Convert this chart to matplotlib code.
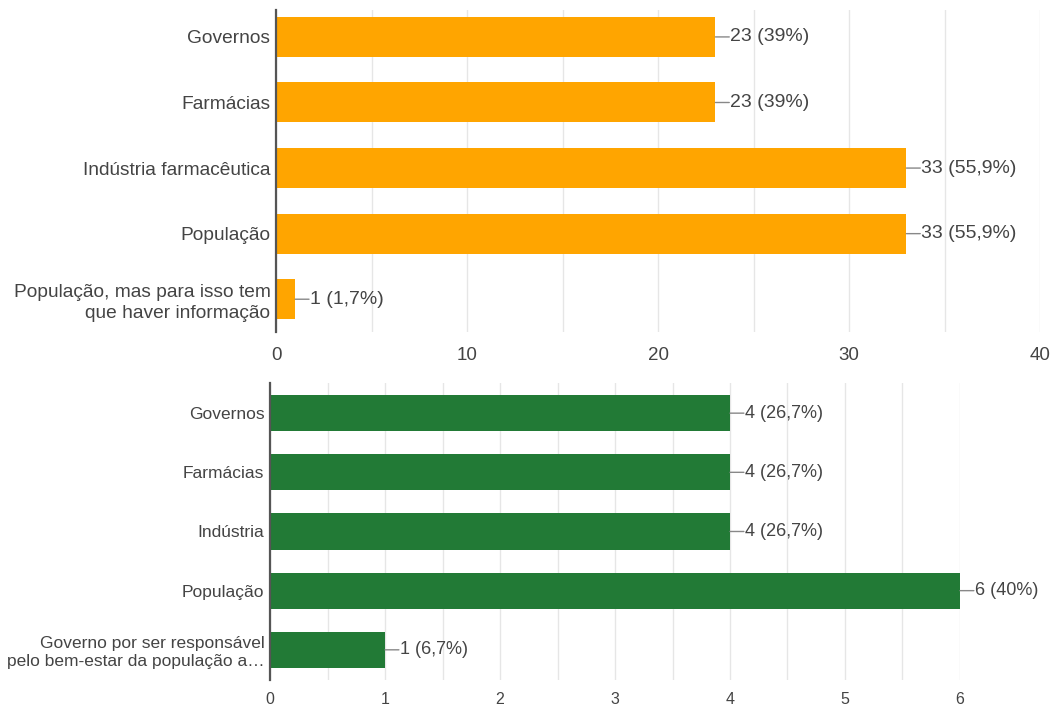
import matplotlib.pyplot as plt
from matplotlib.ticker import MultipleLocator

plt.rcParams['font.family'] = ['Liberation Sans', 'DejaVu Sans']

top_labels = ['Governos', 'Farmácias', 'Indústria farmacêutica', 'População',
              'População, mas para isso tem\nque haver informação']
top_values = [23, 23, 33, 33, 1]
top_text = ['23 (39%)', '23 (39%)', '33 (55,9%)', '33 (55,9%)', '1 (1,7%)']

bot_labels = ['Governos', 'Farmácias', 'Indústria', 'População',
              'Governo por ser responsável\npelo bem-estar da população a…']
bot_values = [4, 4, 4, 6, 1]
bot_text = ['4 (26,7%)', '4 (26,7%)', '4 (26,7%)', '6 (40%)', '1 (6,7%)']

text_col = '#444444'
grid_col = '#e6e6e6'

fig = plt.figure(figsize=(10.54, 7.07), dpi=100)
ax1 = fig.add_axes([0.2619, 0.5304, 0.7249, 0.4554])
ax2 = fig.add_axes([0.2562, 0.0382, 0.6546, 0.4201])


def draw(ax, labels, values, texts, color, xmax, major, minor,
         yfs, xfs, vfs, ylim, pad, lsp):
    y = list(range(len(values)))
    ax.barh(y, values, height=0.61, color=color, zorder=2)
    ax.set_xlim(0, xmax)
    ax.set_ylim(*ylim)
    ax.set_yticks(y)
    ax.set_yticklabels(labels, fontsize=yfs, color=text_col, linespacing=lsp)
    ax.xaxis.set_major_locator(MultipleLocator(major))
    ax.xaxis.set_minor_locator(MultipleLocator(minor))
    ax.tick_params(axis='both', length=0, which='both', labelcolor=text_col)
    ax.tick_params(axis='x', labelsize=xfs, pad=pad)
    ax.tick_params(axis='y', pad=4)
    ax.grid(True, axis='x', which='both', color=grid_col, linewidth=1, zorder=0)
    for s in ['top', 'right', 'bottom']:
        ax.spines[s].set_visible(False)
    ax.spines['left'].set_color('#555555')
    ax.spines['left'].set_linewidth(1.6)
    ax.spines['left'].set_zorder(3)
    for yi, v, t in zip(y, values, texts):
        ax.annotate('', xy=(v, yi), xytext=(10, 0), textcoords='offset points',
                    arrowprops=dict(arrowstyle='-', color='#888888', lw=1,
                                    shrinkA=0, shrinkB=0))
        ax.annotate(t, xy=(v, yi), xytext=(10.5, 0), textcoords='offset points',
                    va='center', ha='left', fontsize=vfs, color=text_col)


draw(ax1, top_labels, top_values, top_text, '#ffa500', 40, 10, 5,
     13.8, 13.5, 14, (4.5, -0.41), 11, 1.3)
draw(ax2, bot_labels, bot_values, bot_text, '#227a36', 6, 1, 0.5,
     12.5, 11.5, 13, (4.51, -0.51), 9, 1.25)

fig.savefig('out.png', dpi=100)
